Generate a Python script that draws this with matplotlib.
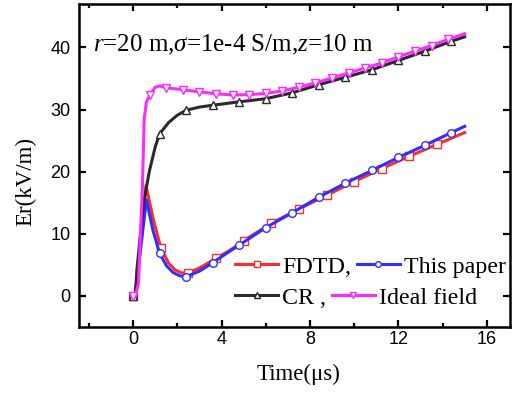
import matplotlib
matplotlib.use('Agg')
import matplotlib.pyplot as plt

plt.rcParams['font.family'] = 'Liberation Sans'
plt.rcParams['mathtext.fontset'] = 'custom'
plt.rcParams['mathtext.rm'] = 'Liberation Serif'
plt.rcParams['mathtext.it'] = 'Liberation Serif:italic'

# FDTD (red, squares)
t_fdtd = [0, 0.1, 0.58, 0.92, 1.25, 1.6, 1.9, 2.2, 2.5, 3.0, 3.75, 4.4, 5.0, 6.25, 7.5, 8.75, 10.0, 11.25, 12.5, 13.75, 15.0]
v_fdtd = [0, 0.4, 17.8, 12.2, 7.8, 5.3, 4.2, 3.7, 3.75, 4.5, 6.05, 7.4, 8.9, 11.7, 14.0, 16.2, 18.4, 20.5, 22.5, 24.4, 26.3]
mk_fdtd = [0, 1.25, 2.5, 3.75, 5.0, 6.25, 7.5, 8.75, 10.0, 11.25, 12.5, 13.75]

# This paper (blue, circles)
t_paper = [0, 0.1, 0.6, 0.9, 1.2, 1.5, 1.8, 2.1, 2.4, 3.0, 3.6, 4.2, 4.8, 6.0, 7.2, 8.4, 9.6, 10.8, 12.0, 13.2, 14.4, 15.0]
v_paper = [0, 0.3, 15.5, 10.5, 6.85, 4.9, 3.8, 3.25, 3.1, 4.0, 5.35, 6.8, 8.2, 11.0, 13.4, 15.9, 18.15, 20.2, 22.3, 24.25, 26.3, 27.3]
mk_paper = [0, 1.2, 2.4, 3.6, 4.8, 6.0, 7.2, 8.4, 9.6, 10.8, 12.0, 13.2, 14.4]

# CR (black, up triangles)
t_cr = [0, 0.1, 0.17, 0.47, 0.74, 1.0, 1.2, 1.6, 2.0, 2.4, 3.0, 3.6, 4.8, 6.0, 7.2, 8.4, 9.6, 10.8, 12.0, 13.2, 14.4, 15.0]
v_cr = [0, 0, 4.2, 14.9, 20.2, 24.0, 26.1, 27.9, 29.1, 29.9, 30.4, 30.7, 31.25, 31.75, 32.7, 34.0, 35.2, 36.4, 37.9, 39.4, 41.0, 41.7]
mk_cr = [0, 1.2, 2.4, 3.6, 4.8, 6.0, 7.2, 8.4, 9.6, 10.8, 12.0, 13.2, 14.4]

# Ideal field (magenta, down triangles)
t_ideal = [0, 0.1, 0.24, 0.42, 0.5, 0.6, 0.75, 1.0, 1.2, 1.5, 2.25, 3.0, 3.75, 4.5, 5.25, 6.0, 6.75, 7.5, 8.25, 9.0, 9.75, 10.5, 11.25, 12.0, 12.75, 13.5, 14.25, 15.0]
v_ideal = [0, 0, 2.0, 17.6, 28.5, 31.2, 32.3, 33.6, 33.8, 33.5, 33.2, 32.85, 32.55, 32.35, 32.4, 32.6, 33.0, 33.6, 34.3, 35.1, 35.9, 36.7, 37.5, 38.5, 39.4, 40.3, 41.3, 42.2]
mk_ideal = [0, 0.75, 1.5, 2.25, 3.0, 3.75, 4.5, 5.25, 6.0, 6.75, 7.5, 8.25, 9.0, 9.75, 10.5, 11.25, 12.0, 12.75, 13.5, 14.25]


def marks(ts, mk):
    return [i for i, t in enumerate(ts) if t in mk]


fig = plt.figure(figsize=(5.18, 3.95), dpi=100)
ax = fig.add_axes([0.1525, 0.172, 0.832, 0.818])

style = dict(lw=2.2, ms=5.5, mfc='white', mew=1.0)
l1, = ax.plot(t_fdtd, v_fdtd, color='#ff2a2a', marker='s', markevery=marks(t_fdtd, mk_fdtd), **style)
l2, = ax.plot(t_paper, v_paper, color='#2f2fff', marker='o', markevery=marks(t_paper, mk_paper), **style)
l3, = ax.plot(t_cr, v_cr, color='#2a2a2a', marker='^', markevery=marks(t_cr, mk_cr), **style)
l4, = ax.plot(t_ideal, v_ideal, color='#ff2aff', marker='v', markevery=marks(t_ideal, mk_ideal), **style)

ax.set_xlim(-2.45, 17.05)
ax.set_ylim(-5, 47)
ax.set_xticks([0, 4, 8, 12, 16])
ax.set_xticks([-2, 2, 6, 10, 14], minor=True)
ax.set_yticks([0, 10, 20, 30, 40])
ax.tick_params(which='both', direction='in', top=True, right=True, width=1.6, labelsize=13)
ax.tick_params(which='major', length=5)
ax.tick_params(which='minor', length=3)
ax.tick_params(axis='x', pad=3)
ax.tick_params(axis='y', pad=6)
for s in ax.spines.values():
    s.set_linewidth(1.8)

ax.set_xlabel('Time(μs)', family='Liberation Serif', fontsize=16.5)
ax.set_ylabel('Er(kV/m)', family='Liberation Serif', fontsize=16.5)
ax.xaxis.set_label_coords(0.51, -0.115)
ax.yaxis.set_label_coords(-0.1, 0.45)

ax.text(0.032, 0.873, r'$r$=20 m,$\sigma$=1e-4 S/m,$z$=10 m', transform=ax.transAxes,
        family='Liberation Serif', fontsize=18, va='center', ha='left')

lp = dict(frameon=False, ncol=2, prop={'family': 'Liberation Serif', 'size': 17.3}, markerscale=0.75,
          handlelength=1.8, handletextpad=0.15, columnspacing=0.25, borderpad=0, borderaxespad=0)
leg1 = ax.legend([l1, l2], ['FDTD,', 'This paper'], loc='center left', bbox_to_anchor=(0.362, 0.186), **lp)
ax.add_artist(leg1)
ax.legend([l3, l4], ['CR ,', 'Ideal field'], loc='center left', bbox_to_anchor=(0.362, 0.09), **lp)

fig.savefig('out.png', dpi=100)
